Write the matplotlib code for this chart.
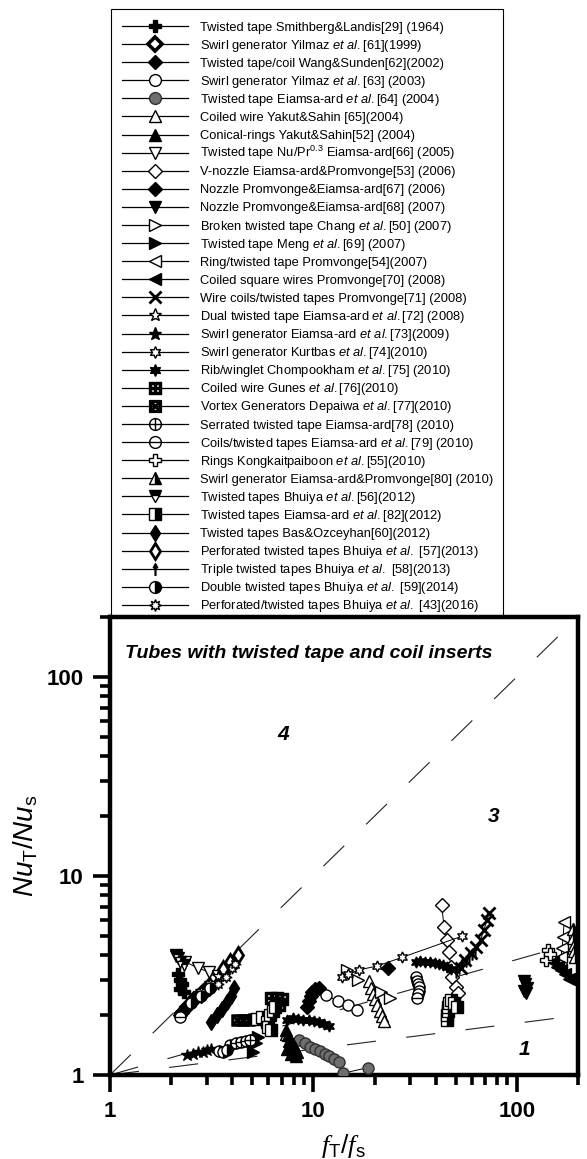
import numpy as np
import matplotlib
matplotlib.use("Agg")
import matplotlib.pyplot as plt
from matplotlib.lines import Line2D
from matplotlib.patches import Rectangle
from matplotlib.path import Path
from matplotlib import ticker

plt.rcParams['font.family'] = ['Liberation Sans', 'DejaVu Sans']
plt.rcParams['mathtext.fontset'] = 'custom'
plt.rcParams['mathtext.rm'] = 'Liberation Sans'
plt.rcParams['mathtext.it'] = 'Liberation Sans:italic'
plt.rcParams['mathtext.bf'] = 'Liberation Sans:bold'
plt.rcParams['mathtext.sf'] = 'Liberation Serif:italic'
plt.rcParams['lines.scale_dashes'] = False

# ── Data: (f_T/f_s, Nu_T/Nu_s) per study ──────────────────────
smith_x = [2.15, 2.2, 2.25, 2.2, 2.3]
smith_y = [3.2, 3.0, 2.85, 2.7, 2.6]
yilmaz61_x = [2.25, 2.4, 2.6, 2.85, 3.1]
yilmaz61_y = [2.05, 2.2, 2.4, 2.6, 2.8]
wang_x = [2.2, 2.35, 2.55, 2.8, 3.05]
wang_y = [2.0, 2.15, 2.35, 2.5, 2.7]
yilmaz63_x = [11.5, 13.2, 14.8, 16.3]
yilmaz63_y = [2.52, 2.35, 2.25, 2.12]
eiamsa64_x = [8.5, 9.1, 9.6, 10.2, 10.8, 11.4, 12.0, 12.7, 13.3, 14.0, 18.6]
eiamsa64_y = [1.50, 1.44, 1.39, 1.35, 1.32, 1.28, 1.25, 1.21, 1.16, 1.02, 1.09]
yakut65_x = [18.8, 19.2, 19.6, 20.1, 20.6, 21.2, 21.8, 22.3, 7.35, 7.6, 7.9]
yakut65_y = [2.95, 2.75, 2.55, 2.4, 2.25, 2.1, 1.97, 1.86, 1.6, 1.48, 1.4]
yakut52_x = [7.3, 7.5, 7.7, 7.9, 8.1, 8.3, 7.45, 7.8, 8.2]
yakut52_y = [1.68, 1.58, 1.5, 1.43, 1.37, 1.3, 1.35, 1.28, 1.24]
nupr66_x = [2.12, 2.35, 2.7, 3.05, 3.4]
nupr66_y = [3.95, 3.7, 3.45, 3.3, 3.15]
vnozzle53_x = [42.7, 43.9, 45.5, 46.4, 47.3, 48.2, 50.0, 51.2]
vnozzle53_y = [7.15, 5.56, 4.77, 4.17, 3.5, 3.12, 2.78, 2.57]
nozzle67_x = [9.3, 9.5, 9.7, 9.9, 10.2, 10.6, 23.4]
nozzle67_y = [2.2, 2.35, 2.48, 2.6, 2.7, 2.75, 3.45]
nozzle68_x = [108, 110, 112, 109, 111]
nozzle68_y = [2.95, 2.85, 2.75, 2.65, 2.58]
chang50_x = [14.7, 16.6, 21.5, 23.9]
chang50_y = [3.37, 3.0, 2.6, 2.44]
meng69_x = [5.05, 5.2, 5.37]
meng69_y = [1.30, 1.45, 1.55]
ring54_x = [171, 169, 167, 165, 160]
ring54_y = [5.9, 4.95, 4.35, 3.9, 3.5]
square70_x = [150, 158, 165, 172, 180, 205]
square70_y = [3.7, 3.5, 3.35, 3.2, 3.05, 3.18]
wire71_x = [52.9, 55.9, 59.3, 62.9, 66.4, 68.9, 71.5, 72.8]
wire71_y = [3.45, 3.78, 4.1, 4.4, 4.77, 5.35, 6.0, 6.5]
dual72_x = [2.8, 3.1, 3.4, 3.7]
dual72_y = [2.65, 2.9, 3.15, 3.4]
swirl73_x = [2.4, 2.55, 2.7, 2.85, 3.0, 3.15]
swirl73_y = [1.26, 1.28, 1.3, 1.31, 1.33, 1.35]
kurtbas74_x = [13.8, 14.8, 16.7, 20.6, 27.3, 54.0]
kurtbas74_y = [3.12, 3.2, 3.37, 3.53, 3.9, 4.99]
rib75_x = [7.4, 7.9, 8.4, 8.9, 9.5, 10.1, 10.7, 11.3, 11.9,
           31.8, 33.5, 35.5, 37.5, 39.5, 41.5, 43.5, 45.5, 47.5]
rib75_y = [1.90, 1.93, 1.92, 1.90, 1.88, 1.87, 1.84, 1.80, 1.76,
           3.7, 3.72, 3.7, 3.68, 3.65, 3.62, 3.58, 3.5, 3.4]
gunes76_x = [6.2, 6.6, 7.0, 6.8]
gunes76_y = [2.45, 2.45, 2.42, 2.25]
depaiwa77_x = [4.2, 4.5, 4.8, 5.1]
depaiwa77_y = [1.88, 1.9, 1.9, 1.92]
serrated78_x = [3.9, 4.15, 4.4, 4.65, 4.9]
serrated78_y = [1.42, 1.44, 1.46, 1.48, 1.5]
coils79_x = [2.2, 32.0, 32.3, 32.6, 32.9, 33.0, 32.7, 32.4]
coils79_y = [1.95, 3.1, 2.98, 2.87, 2.76, 2.65, 2.55, 2.45]
rings55_x = [140, 143, 146]
rings55_y = [3.8, 4.25, 4.05]
swirl80_x = [188, 190, 191, 192, 193]
swirl80_y = [5.4, 4.9, 4.5, 4.2, 3.9]
bhuiya56_x = [2.1, 2.15, 2.2, 2.3]
bhuiya56_y = [4.0, 3.85, 3.7, 3.55]
eiamsa82_x = [5.3, 5.6, 5.9, 6.1, 6.3, 6.5, 6.0, 6.2,
              45.5, 45.5, 45.8, 46.0, 46.5, 47.5, 49.0, 51.0]
eiamsa82_y = [1.92, 1.95, 1.85, 2.0, 2.1, 2.2, 1.75, 1.68,
              1.9, 2.0, 2.1, 2.2, 2.3, 2.38, 2.3, 2.2]
bas60_x = [3.15, 3.35, 3.55, 3.75, 3.95, 4.05]
bas60_y = [1.85, 2.0, 2.15, 2.32, 2.5, 2.75]
perf57_x = [3.6, 3.9, 4.25]
perf57_y = [3.4, 3.7, 4.0]
triple58_x = [50, 52, 54, 56, 58, 60, 62]
triple58_y = [3.3, 3.45, 3.6, 3.75, 3.9, 4.05, 4.2]
double59_x = [2.5, 2.8, 3.1, 3.45, 3.6, 3.75]
double59_y = [2.3, 2.5, 2.75, 1.32, 1.30, 1.33]
perf43_x = [3.4, 3.7, 4.0, 4.1]
perf43_y = [2.85, 3.1, 3.45, 3.6]

# exponents of the reference lines Nu_T/Nu_s = (f_T/f_s)^n
line_labels = ['4', '3', '1']
line_exponents = [1.0, 0.29, 0.13]
line_label_x = [7.14, 77.3, 108.7]
line_label_y = [51.1, 19.9, 1.34]


# ── Custom markers ────────────────────────
def _rect(x0, y0, x1, y1, cw=False):
    pts = [(x0, y0), (x1, y0), (x1, y1), (x0, y1), (x0, y0)]
    if cw:
        pts = pts[::-1]
    return Path(pts, closed=True)


def box_plus():
    t, c = 0.32, 0.14
    parts = [_rect(-1, -1, 1, 1)]
    for sx in (-1, 1):
        for sy in (-1, 1):
            xs = sorted([sx * c, sx * (1 - t)])
            ys = sorted([sy * c, sy * (1 - t)])
            parts.append(_rect(xs[0], ys[0], xs[1], ys[1], cw=True))
    return Path.make_compound_path(*parts)


def box_times():
    k, e = 0.68, 0.16
    parts = [_rect(-1, -1, 1, 1)]
    tri = np.array([(-k + e, k), (k - e, k), (0, e + 0.05)])
    for ang in (0, 90, 180, 270):
        a = np.deg2rad(ang)
        rot = np.array([[np.cos(a), -np.sin(a)], [np.sin(a), np.cos(a)]])
        v = tri @ rot.T
        parts.append(Path(np.vstack([v, v[:1]]), closed=True))
    return Path.make_compound_path(*parts)


def circ_plus():
    return Path.make_compound_path(Path.unit_circle(),
                                   Path([(-1, 0), (1, 0)]),
                                   Path([(0, -1), (0, 1)]))


def circ_minus():
    return Path.make_compound_path(Path.unit_circle(),
                                   Path([(-1, 0), (1, 0)]))


def up_arrow():
    stem = _rect(-0.07, -1, 0.07, 0.3)
    head = Path([(-0.38, 0.3), (0.38, 0.3), (0, 1), (-0.38, 0.3)], closed=True)
    return Path.make_compound_path(stem, head)


K = 'black'
W = 'white'
styles = [
    dict(marker='P', mfc=K),
    dict(marker='D', mfc=W, mew=2.6, ms_scale=0.8),
    dict(marker='D', mfc=K, ms_scale=0.85),
    dict(marker='o', mfc=W),
    dict(marker='o', mfc='#6e6e6e', mec='#303030'),
    dict(marker='^', mfc=W),
    dict(marker='^', mfc=K),
    dict(marker='v', mfc=W),
    dict(marker='D', mfc=W, ms_scale=0.85),
    dict(marker='D', mfc=K, ms_scale=0.85),
    dict(marker='v', mfc=K),
    dict(marker='>', mfc=W),
    dict(marker='>', mfc=K),
    dict(marker='<', mfc=W),
    dict(marker='<', mfc=K),
    dict(marker='x', mfc=K, mew=2.0),
    dict(marker='*', mfc=W, ms_scale=1.15),
    dict(marker='*', mfc=K, ms_scale=1.15),
    dict(marker=(6, 1, 0), mfc=W),
    dict(marker=(6, 1, 0), mfc=K),
    dict(marker=box_plus(), mfc=K),
    dict(marker=box_times(), mfc=K),
    dict(marker=circ_plus(), mfc=W),
    dict(marker=circ_minus(), mfc=W),
    dict(marker='P', mfc=W),
    dict(marker='^', mfc=K, fillstyle='right', mfcalt=W),
    dict(marker='v', mfc=K, fillstyle='top', mfcalt=W),
    dict(marker='s', mfc=K, fillstyle='right', mfcalt=W),
    dict(marker='d', mfc=K),
    dict(marker='d', mfc=W, mew=2.0),
    dict(marker=up_arrow(), mfc=K),
    dict(marker='o', mfc=K, fillstyle='right', mfcalt=W),
    dict(marker=(8, 1, 0), mfc=W),
]

etal = r'$\mathit{et\ al.}$'
labels = [
    'Twisted tape Smithberg&Landis[29] (1964)',
    'Swirl generator Yilmaz ' + etal + '[61](1999)',
    'Twisted tape/coil Wang&Sunden[62](2002)',
    'Swirl generator Yilmaz ' + etal + '[63] (2003)',
    'Twisted tape Eiamsa-ard ' + etal + '[64] (2004)',
    'Coiled wire Yakut&Sahin [65](2004)',
    'Conical-rings Yakut&Sahin[52] (2004)',
    r'Twisted tape Nu/Pr$^{0.3}$ Eiamsa-ard[66] (2005)',
    'V-nozzle Eiamsa-ard&Promvonge[53] (2006)',
    'Nozzle Promvonge&Eiamsa-ard[67] (2006)',
    'Nozzle Promvonge&Eiamsa-ard[68] (2007)',
    'Broken twisted tape Chang ' + etal + '[50] (2007)',
    'Twisted tape Meng ' + etal + '[69] (2007)',
    'Ring/twisted tape Promvonge[54](2007)',
    'Coiled square wires Promvonge[70] (2008)',
    'Wire coils/twisted tapes Promvonge[71] (2008)',
    'Dual twisted tape Eiamsa-ard ' + etal + '[72] (2008)',
    'Swirl generator Eiamsa-ard ' + etal + '[73](2009)',
    'Swirl generator Kurtbas ' + etal + '[74](2010)',
    'Rib/winglet Chompookham ' + etal + '[75] (2010)',
    'Coiled wire Gunes ' + etal + '[76](2010)',
    'Vortex Generators Depaiwa ' + etal + '[77](2010)',
    'Serrated twisted tape Eiamsa-ard[78] (2010)',
    'Coils/twisted tapes Eiamsa-ard ' + etal + '[79] (2010)',
    'Rings Kongkaitpaiboon ' + etal + '[55](2010)',
    'Swirl generator Eiamsa-ard&Promvonge[80] (2010)',
    'Twisted tapes Bhuiya ' + etal + '[56](2012)',
    'Twisted tapes Eiamsa-ard ' + etal + '[82](2012)',
    'Twisted tapes Bas&Ozceyhan[60](2012)',
    'Perforated twisted tapes Bhuiya ' + etal + ' [57](2013)',
    'Triple twisted tapes Bhuiya ' + etal + ' [58](2013)',
    'Double twisted tapes Bhuiya ' + etal + ' [59](2014)',
    'Perforated/twisted tapes Bhuiya ' + etal + ' [43](2016)',
]

data = [
    (smith_x, smith_y), (yilmaz61_x, yilmaz61_y), (wang_x, wang_y),
    (yilmaz63_x, yilmaz63_y), (eiamsa64_x, eiamsa64_y), (yakut65_x, yakut65_y),
    (yakut52_x, yakut52_y), (nupr66_x, nupr66_y), (vnozzle53_x, vnozzle53_y),
    (nozzle67_x, nozzle67_y), (nozzle68_x, nozzle68_y), (chang50_x, chang50_y),
    (meng69_x, meng69_y), (ring54_x, ring54_y), (square70_x, square70_y),
    (wire71_x, wire71_y), (dual72_x, dual72_y), (swirl73_x, swirl73_y),
    (kurtbas74_x, kurtbas74_y), (rib75_x, rib75_y), (gunes76_x, gunes76_y),
    (depaiwa77_x, depaiwa77_y), (serrated78_x, serrated78_y),
    (coils79_x, coils79_y), (rings55_x, rings55_y), (swirl80_x, swirl80_y),
    (bhuiya56_x, bhuiya56_y), (eiamsa82_x, eiamsa82_y), (bas60_x, bas60_y),
    (perf57_x, perf57_y), (triple58_x, triple58_y), (double59_x, double59_y),
    (perf43_x, perf43_y),
]
# series drawn with a connecting line
joined = {3, 4, 7, 8, 13, 15, 18}

MS = 8.0
LEG_MS = 8.5
W_PX, H_PX = 587, 1159


def marker_kw(st, ms):
    kw = dict(marker=st['marker'], markerfacecolor=st['mfc'],
              markeredgecolor=st.get('mec', K),
              markeredgewidth=st.get('mew', 1.0),
              markersize=ms * st.get('ms_scale', 1.0))
    if 'fillstyle' in st:
        kw['fillstyle'] = st['fillstyle']
        kw['markerfacecoloralt'] = st['mfcalt']
    return kw


def fx(px):
    return px / W_PX


def fy(py):
    return 1 - py / H_PX


# ── Figure ────────────────────────────────
fig = plt.figure(figsize=(W_PX / 100, H_PX / 100), dpi=100)
ax = fig.add_axes([fx(110), fy(1075), 468 / W_PX, 458 / H_PX])
ax.set_xscale('log')
ax.set_yscale('log')
ax.set_xlim(1, 200)
ax.set_ylim(1, 200)

# reference lines
xl = np.array(ax.get_xlim())
for lab, n, tx, ty in zip(line_labels, line_exponents, line_label_x, line_label_y):
    ax.plot(xl, xl ** n, color='#222222', lw=0.8, dashes=(21, 22), zorder=1)
    ax.text(tx, ty, lab, fontsize=15, fontweight='bold', style='italic',
            ha='center', va='center')

for i, ((xs, ys), st) in enumerate(zip(data, styles)):
    ls = '-' if i in joined else 'none'
    ax.plot(xs, ys, linestyle=ls, color=K, lw=0.7, zorder=3,
            **marker_kw(st, MS))

ax.text(0.032, 0.921, 'Tubes with twisted tape and coil inserts',
        transform=ax.transAxes, fontsize=14, fontweight='bold', style='italic',
        ha='left', va='center')

# axes styling
for sp in ax.spines.values():
    sp.set_linewidth(3.2)
ax.xaxis.set_major_locator(ticker.FixedLocator([1, 10, 100]))
ax.yaxis.set_major_locator(ticker.FixedLocator([1, 10, 100]))
ax.xaxis.set_major_formatter(ticker.FormatStrFormatter('%g'))
ax.yaxis.set_major_formatter(ticker.FormatStrFormatter('%g'))
ax.xaxis.set_minor_locator(ticker.LogLocator(base=10, subs=np.arange(2, 10)))
ax.yaxis.set_minor_locator(ticker.LogLocator(base=10, subs=np.arange(2, 10)))
ax.xaxis.set_minor_formatter(ticker.NullFormatter())
ax.yaxis.set_minor_formatter(ticker.NullFormatter())
ax.tick_params(which='major', direction='out', length=12, width=2.6,
               labelsize=16, pad=7)
ax.tick_params(which='minor', direction='out', length=7, width=2.6)
for t in ax.get_xticklabels() + ax.get_yticklabels():
    t.set_fontweight('bold')

ax.set_ylabel(r'$\mathit{Nu}_{\mathrm{T}}/\mathit{Nu}_{\mathrm{s}}$', fontsize=20)
ax.set_xlabel(r'$\mathsf{f}_{\mathrm{T}}/\mathsf{f}_{\mathrm{s}}$', fontsize=19)
ax.yaxis.set_label_coords(-0.15, 0.5)
ax.xaxis.set_label_coords(0.5, -0.125)

# ── Legend box above the axes, fixed row pitch ────────────────
frame = Rectangle((fx(111), fy(617)), (503 - 111) / W_PX, (617 - 9) / H_PX,
                  transform=fig.transFigure, facecolor=W, edgecolor=K,
                  lw=0.8, zorder=-1)
fig.add_artist(frame)
row0, pitch = 26.0, 18.09
for i, (st, lab) in enumerate(zip(styles, labels)):
    yc = row0 + pitch * i
    h = Line2D([fx(122), fx(155), fx(188)], [fy(yc)] * 3, color=K, lw=0.9,
               markevery=[1], transform=fig.transFigure,
               **marker_kw(st, LEG_MS))
    fig.add_artist(h)
    fig.text(fx(200), fy(yc + 4.6), lab, fontsize=9.3, ha='left',
             va='baseline')

fig.savefig('out.png', dpi=100)
